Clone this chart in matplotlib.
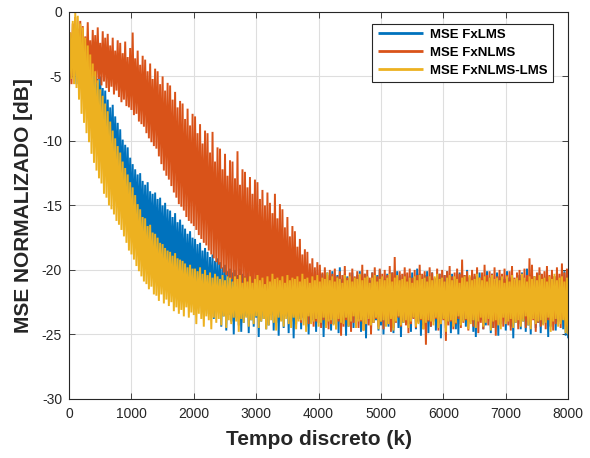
import numpy as np
import matplotlib
matplotlib.use("Agg")
import matplotlib.pyplot as plt

# sample spacing of the read-off series (discrete time k)
k_step = 20
x_ticks = [0, 1000, 2000, 3000, 4000, 5000, 6000, 7000, 8000]
y_ticks = [-30, -25, -20, -15, -10, -5, 0]
series_names = ["MSE FxLMS", "MSE FxNLMS", "MSE FxNLMS-LMS"]

mse_fxlms = [
    -4.6, -2.3, -5.1, -2.0, -4.4, -2.8, -5.6, -2.2, -5.3, -3.0,
    -5.9, -3.1, -6.4, -3.7, -6.0, -3.4, -7.1, -4.1, -7.6, -4.3,
    -8.1, -4.7, -8.6, -5.2, -9.0, -5.0, -9.7, -5.9, -10.1, -6.1,
    -10.6, -6.8, -11.0, -7.4, -11.6, -7.2, -12.3, -8.1, -12.5, -8.6,
    -13.2, -9.1, -13.8, -9.9, -14.1, -10.3, -14.9, -10.5, -15.4, -11.3,
    -15.9, -11.8, -16.4, -12.2, -16.1, -12.6, -17.0, -12.5, -17.2, -13.1,
    -17.6, -13.4, -17.9, -13.2, -18.3, -13.9, -17.8, -14.1, -18.5, -14.0,
    -18.4, -14.5, -19.0, -14.4, -18.8, -15.0, -19.3, -14.8, -19.6, -15.3,
    -19.5, -15.4, -20.1, -15.9, -19.8, -15.6, -20.5, -16.3, -20.2, -16.1,
    -20.6, -16.5, -21.0, -16.8, -21.3, -17.2, -20.9, -17.0, -21.6, -17.5,
    -21.5, -17.6, -22.2, -18.0, -21.8, -17.9, -22.6, -18.5, -22.1, -18.3,
    -22.7, -18.6, -23.4, -19.0, -22.5, -18.8, -23.8, -19.3, -23.0, -19.1,
    -23.3, -19.4, -24.4, -19.8, -23.6, -19.6, -24.7, -20.1, -23.5, -19.9,
    -24.0, -20.2, -25.0, -20.0, -23.7, -20.4, -24.3, -19.9, -24.8, -20.3,
    -24.1, -20.5, -23.6, -20.2, -24.9, -20.6, -23.9, -20.1, -24.4, -20.8,
    -23.7, -20.3, -25.2, -20.7, -24.0, -20.4, -23.8, -19.9, -24.6, -20.5,
    -24.3, -20.9, -23.5, -20.2, -24.7, -20.6, -24.1, -20.3, -25.1, -20.4,
    -23.9, -20.1, -24.5, -20.8, -23.6, -20.4, -24.9, -20.2, -24.0, -20.7,
    -25.3, -20.5, -24.2, -20.0, -23.8, -20.6, -24.6, -20.3, -23.7, -20.9,
    -24.4, -20.2, -25.0, -20.5, -24.1, -20.7, -23.9, -20.1, -24.8, -20.4,
    -23.6, -20.6, -24.3, -20.3, -25.2, -20.8, -24.0, -20.2, -23.8, -20.5,
    -24.7, -20.1, -24.2, -20.6, -23.7, -20.4, -24.9, -19.8, -24.1, -20.7,
    -23.9, -20.3, -25.1, -20.5, -24.4, -20.9, -23.6, -20.2, -24.5, -20.6,
    -24.0, -20.4, -23.8, -20.1, -24.8, -20.7, -24.2, -20.3, -25.3, -20.5,
    -23.7, -20.8, -24.6, -20.2, -24.1, -20.6, -23.9, -20.4, -24.7, -20.0,
    -24.3, -20.5, -25.0, -20.7, -23.6, -20.3, -24.4, -20.9, -24.0, -20.2,
    -24.9, -20.6, -23.8, -20.1, -24.5, -20.4, -25.2, -20.8, -24.1, -20.3,
    -23.9, -20.7, -24.2, -20.5, -24.8, -20.2, -23.7, -20.6, -24.6, -19.9,
    -24.0, -20.3, -25.1, -20.8, -24.3, -20.4, -23.8, -20.1, -24.9, -20.6,
    -24.4, -20.2, -23.6, -20.7, -24.7, -20.5, -24.1, -20.3, -25.3, -20.8,
    -23.8, -20.4, -24.5, -20.1, -24.0, -20.6, -24.9, -20.3, -23.7, -20.7,
    -24.6, -20.5, -25.0, -20.2, -24.2, -20.8, -23.9, -20.4, -24.4, -20.0,
    -24.1, -20.6, -23.7, -20.3, -24.8, -20.5, -25.2, -20.9, -24.0, -20.2,
    -23.9, -20.4, -24.6, -20.7, -24.3, -20.1, -23.8, -20.6, -24.9, -20.3,
    -24.5, -20.8, -24.0, -20.2, -25.1, -20.5, -24.2, -20.4, -23.6, -20.7,
    -24.7, -20.1, -23.9, -20.6, -24.4, -20.3, -25.3, -20.8, -24.1, -20.5,
    -23.8, -20.4, -24.6, -20.2, -24.0, -20.7, -24.8, -19.9, -24.3, -20.6,
    -25.0, -20.3, -23.7, -20.5, -24.5, -20.8, -24.1, -20.2, -24.9, -20.4,
    -24.2, -20.6, -23.9, -20.1, -25.2, -20.7, -24.4, -20.3, -23.8, -20.5,
    -24.7, -20.2, -24.0, -20.8, -23.6, -20.4, -24.6, -20.1, -25.1, -20.6,
    -25.3,
]

mse_fxnlms = [
    -6.0, -1.6, -5.6, -0.9, -5.2, -0.4, -4.8, -1.3, -5.1, -0.7,
    -4.9, -1.1, -5.3, -1.9, -4.7, -0.8, -5.1, -2.2, -5.4, -1.4,
    -5.0, -1.8, -5.5, -1.2, -5.2, -2.4, -5.7, -1.5, -5.4, -2.0,
    -5.9, -1.7, -6.2, -2.6, -5.8, -2.0, -6.4, -3.0, -6.1, -2.2,
    -6.6, -2.4, -7.0, -3.2, -6.8, -2.3, -7.3, -3.5, -7.4, -2.8,
    -7.6, -1.6, -8.0, -3.6, -7.9, -3.0, -8.5, -4.1, -8.7, -3.4,
    -8.9, -3.7, -9.4, -4.6, -9.8, -4.0, -10.1, -5.2, -10.4, -4.4,
    -10.6, -4.6, -11.2, -5.6, -11.8, -5.0, -12.3, -6.1, -12.7, -5.5,
    -13.0, -5.7, -13.5, -6.8, -14.0, -6.2, -14.4, -7.4, -14.9, -6.9,
    -15.1, -7.1, -15.4, -8.3, -15.9, -7.5, -16.2, -8.8, -16.4, -7.9,
    -16.6, -8.1, -16.9, -9.4, -17.3, -8.7, -17.6, -10.2, -17.9, -9.2,
    -18.1, -9.4, -18.5, -10.9, -18.8, -9.3, -19.1, -11.6, -19.4, -10.5,
    -19.6, -10.6, -19.9, -12.2, -20.2, -11.0, -20.4, -12.7, -20.6, -11.5,
    -20.7, -11.6, -21.0, -12.9, -21.2, -10.8, -21.5, -13.4, -21.3, -12.2,
    -21.6, -12.4, -22.0, -13.6, -21.8, -12.8, -22.3, -14.1, -22.1, -13.0,
    -22.2, -13.2, -22.5, -14.5, -22.3, -13.8, -22.7, -15.0, -22.4, -14.0,
    -22.6, -14.8, -23.0, -15.6, -22.8, -14.1, -23.2, -16.0, -22.9, -14.9,
    -23.1, -15.3, -23.4, -16.7, -23.0, -15.9, -23.6, -17.4, -23.3, -16.6,
    -23.5, -17.0, -23.9, -18.2, -23.6, -17.6, -24.1, -18.8, -23.7, -18.4,
    -23.9, -18.6, -24.2, -19.5, -23.8, -19.1, -24.4, -19.8, -24.0, -19.4,
    -24.1, -19.6, -24.5, -20.2, -23.9, -19.8, -24.3, -20.4, -24.6, -20.0,
    -24.2, -20.3, -23.8, -19.9, -24.6, -20.5, -24.0, -20.1, -25.1, -20.4,
    -24.4, -19.7, -23.9, -20.6, -24.3, -20.2, -24.8, -19.9, -24.1, -20.5,
    -23.7, -20.1, -24.5, -20.4, -24.0, -19.6, -24.7, -20.3, -23.9, -20.0,
    -24.3, -20.6, -25.0, -20.2, -24.1, -19.8, -23.8, -20.5, -24.4, -19.9,
    -24.0, -20.3, -24.6, -20.0, -23.9, -20.4, -24.2, -19.7, -24.8, -20.2,
    -24.5, -19.0, -24.1, -20.5, -23.7, -20.1, -24.4, -20.3, -24.0, -19.8,
    -24.3, -20.2, -24.9, -19.9, -24.2, -20.6, -23.8, -20.0, -24.5, -20.4,
    -24.1, -19.6, -23.9, -20.3, -24.6, -20.1, -25.8, -20.5, -24.0, -19.8,
    -24.4, -20.2, -24.0, -20.6, -23.8, -19.9, -24.7, -20.3, -24.2, -20.0,
    -23.9, -20.4, -25.5, -20.1, -24.3, -19.7, -24.0, -20.5, -24.6, -20.2,
    -24.2, -19.9, -23.8, -20.3, -24.5, -19.2, -24.1, -20.4, -23.9, -20.1,
    -24.7, -20.5, -24.0, -20.0, -24.4, -20.3, -23.7, -19.8, -24.9, -20.6,
    -24.1, -20.2, -24.6, -19.6, -23.9, -20.4, -24.3, -20.1, -24.0, -20.3,
    -24.5, -19.8, -25.1, -20.5, -24.2, -20.0, -23.8, -20.3, -24.4, -19.9,
    -24.0, -20.4, -24.3, -20.1, -24.7, -19.7, -24.1, -20.6, -23.9, -20.2,
    -24.6, -20.0, -24.2, -20.3, -23.8, -19.9, -24.5, -20.4, -24.0, -19.1,
    -24.3, -19.6, -23.9, -20.5, -24.8, -20.2, -24.1, -19.8, -24.4, -20.3,
    -24.0, -20.1, -24.6, -19.7, -23.9, -20.4, -24.3, -20.0, -24.7, -20.5,
    -24.2, -19.8, -24.0, -20.3, -24.5, -19.5, -23.8, -20.2, -24.4, -19.9,
    -24.3,
]

mse_fxnlms_lms = [
    -5.4, -1.6, -5.2, -0.7, -5.6, 0.0, -5.9, -0.3, -6.8, -0.9,
    -7.9, -1.2, -8.6, -2.0, -9.4, -2.6, -10.1, -3.3, -11.0, -4.0,
    -11.7, -4.6, -12.3, -5.3, -12.9, -6.0, -13.3, -6.5, -14.1, -7.1,
    -14.4, -7.7, -15.0, -8.5, -15.3, -9.2, -15.7, -9.8, -16.2, -10.4,
    -16.5, -10.9, -16.9, -11.6, -17.4, -12.1, -17.9, -12.6, -18.5, -13.2,
    -18.8, -13.6, -19.2, -14.2, -19.7, -14.9, -20.1, -15.3, -20.5, -15.9,
    -20.9, -16.0, -21.1, -16.6, -21.5, -16.5, -21.3, -17.1, -21.9, -17.2,
    -22.0, -17.5, -22.4, -17.9, -21.9, -18.0, -22.6, -18.3, -22.3, -18.5,
    -22.8, -18.6, -22.5, -18.9, -23.2, -18.7, -22.9, -19.1, -23.4, -19.2,
    -23.1, -19.3, -23.6, -19.5, -22.9, -19.8, -23.7, -19.6, -23.3, -19.9,
    -23.5, -19.9, -24.2, -20.1, -23.4, -19.8, -23.8, -20.3, -24.4, -20.0,
    -23.6, -20.4, -23.9, -20.2, -24.6, -20.6, -23.7, -20.3, -24.1, -20.5,
    -23.8, -20.7, -24.3, -20.4, -23.6, -20.8, -24.5, -20.5, -23.9, -20.6,
    -24.2, -20.9, -23.7, -20.5, -24.0, -20.7, -24.8, -20.4, -23.8, -21.0,
    -24.1, -20.6, -23.7, -20.9, -24.4, -20.5, -23.9, -21.0, -24.2, -20.7,
    -23.6, -20.4, -24.5, -20.8, -24.0, -20.6, -23.8, -21.1, -24.6, -20.5,
    -24.3, -20.9, -23.9, -20.3, -24.1, -20.7, -24.7, -20.6, -23.7, -20.8,
    -24.0, -20.5, -24.4, -21.0, -23.8, -20.4, -24.2, -20.8, -24.5, -20.6,
    -23.7, -20.7, -24.6, -20.5, -24.0, -20.9, -23.9, -20.3, -24.3, -20.7,
    -24.8, -20.6, -23.6, -21.0, -24.2, -20.5, -24.0, -20.8, -23.8, -20.4,
    -24.4, -20.9, -24.1, -20.6, -23.7, -20.7, -24.5, -20.2, -24.0, -20.8,
    -23.9, -20.5, -24.3, -20.9, -24.6, -20.6, -23.8, -20.7, -24.1, -21.0,
    -24.2, -20.4, -23.7, -20.8, -24.4, -20.5, -24.0, -20.9, -23.6, -20.6,
    -24.5, -20.7, -24.0, -20.3, -23.9, -20.8, -24.7, -20.6, -24.2, -20.5,
    -23.8, -21.0, -24.3, -20.6, -24.1, -20.4, -23.7, -20.9, -24.6, -20.7,
    -24.0, -20.5, -23.9, -20.8, -24.4, -20.6, -24.2, -20.3, -23.8, -20.9,
    -24.7, -20.6, -24.0, -20.4, -23.6, -20.8, -24.3, -20.7, -24.1, -20.5,
    -23.9, -20.9, -24.5, -20.6, -24.0, -21.0, -23.7, -20.5, -24.4, -20.8,
    -24.2, -20.4, -23.8, -20.7, -24.6, -20.6, -24.1, -20.9, -23.9, -20.5,
    -24.0, -20.8, -24.3, -20.5, -23.7, -20.3, -24.5, -20.7, -24.2, -20.6,
    -23.8, -20.9, -24.8, -20.6, -24.0, -20.4, -23.9, -20.8, -24.4, -20.5,
    -24.1, -20.7, -23.6, -21.0, -24.3, -20.6, -24.0, -20.5, -23.8, -20.9,
    -24.6, -20.4, -24.2, -20.8, -23.9, -20.7, -24.5, -20.3, -24.0, -20.6,
    -23.7, -20.8, -24.4, -20.5, -24.1, -20.9, -23.8, -20.6, -24.7, -20.4,
    -24.0, -20.7, -23.9, -20.6, -24.3, -20.8, -24.6, -20.5, -23.7, -21.0,
    -24.2, -20.5, -24.0, -20.9, -23.8, -20.4, -24.5, -20.7, -24.1, -20.6,
    -23.9, -20.8, -24.4, -20.3, -24.0, -20.6, -23.6, -20.9, -24.3, -20.5,
    -24.6, -20.7, -23.8, -20.5, -24.2, -20.8, -24.0, -20.4, -23.9, -20.7,
    -24.3, -20.6, -24.1, -20.9, -23.7, -20.5, -24.8, -20.7, -24.0, -20.3,
    -23.8, -20.8, -24.4, -20.6, -24.2, -20.5, -23.9, -20.9, -24.9, -20.6,
    -25.0,
]

colors = ["#0072BD", "#D95319", "#EDB120"]

plt.rcParams["font.family"] = ["Liberation Sans", "DejaVu Sans"]
plt.rcParams["axes.unicode_minus"] = False

fig = plt.figure(figsize=(5.9, 4.58), dpi=100)
ax = fig.add_axes([0.117, 0.129, 0.846, 0.845])

for vals, col, name in zip([mse_fxlms, mse_fxnlms, mse_fxnlms_lms], colors, series_names):
    k = np.arange(len(vals)) * k_step
    ax.plot(k, vals, color=col, lw=1.4, label=name,
            solid_joinstyle="miter", solid_capstyle="butt")

ax.set_xlim(0, 8000)
ax.set_ylim(-30, 0)
ax.set_xticks(x_ticks)
ax.set_yticks(y_ticks)
ax.grid(True, color="#dedede", linewidth=0.8)
ax.set_axisbelow(True)
ax.tick_params(direction="in", length=4, width=0.6, colors="#262626",
               labelsize=10, top=True, right=True)
ax.tick_params(axis="y", pad=5)
ax.tick_params(axis="x", pad=6)
for sp in ax.spines.values():
    sp.set_color("#262626")
    sp.set_linewidth(0.8)

ax.set_xlabel("Tempo discreto (k)", fontsize=15, fontweight="bold", color="#262626")
ax.set_ylabel("MSE NORMALIZADO [dB]", fontsize=15, fontweight="bold", color="#262626")
ax.xaxis.set_label_coords(0.5, -0.08)
ax.yaxis.set_label_coords(-0.072, 0.5)

leg = ax.legend(loc="upper right", bbox_to_anchor=(0.97, 0.97),
                prop={"weight": "bold", "size": 9.5}, frameon=True, fancybox=False,
                edgecolor="#262626", framealpha=1, handlelength=3.4,
                borderpad=0.4, labelspacing=0.42, handletextpad=0.6, borderaxespad=0)
leg.get_frame().set_linewidth(0.8)
for line in leg.get_lines():
    line.set_linewidth(2.0)

fig.savefig("out.png", dpi=100)
